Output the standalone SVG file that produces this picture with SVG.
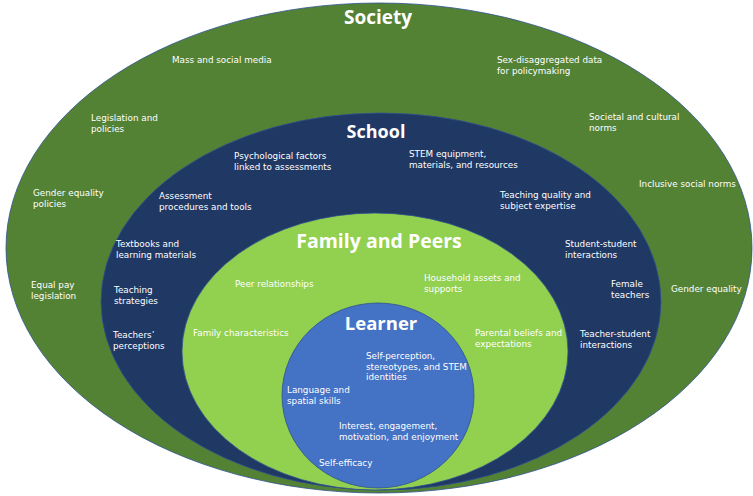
<svg xmlns="http://www.w3.org/2000/svg" width="753" height="496" viewBox="0 0 753 496">
<style>
.ring{stroke:#2F528F;stroke-width:0.8}
.t{font-family:"DejaVu Sans","Open Sans",sans-serif;font-size:8.8px;fill:#ffffff}
.h{font-family:"Open Sans","DejaVu Sans",sans-serif;font-weight:bold;fill:#ffffff;text-anchor:middle}
</style>
<rect width="753" height="496" fill="#ffffff"/>
<g id="society">
<ellipse class="ring" cx="379" cy="248" rx="373" ry="245" fill="#548235"/>
<text class="h" x="378" y="24" font-size="19">Society</text>
<text class="t" x="172" y="63">Mass and social media</text>
<text class="t" x="497" y="63">Sex-disaggregated data<tspan x="497" dy="10.5">for policymaking</tspan></text>
<text class="t" x="91" y="121">Legislation and<tspan x="91" dy="10.5">policies</tspan></text>
<text class="t" x="589" y="120">Societal and cultural<tspan x="589" dy="10.5">norms</tspan></text>
<text class="t" x="33" y="196">Gender equality<tspan x="33" dy="10.5">policies</tspan></text>
<text class="t" x="639" y="187">Inclusive social norms</text>
<text class="t" x="31" y="288">Equal pay<tspan x="31" dy="10.5">legislation</tspan></text>
<text class="t" x="671" y="292">Gender equality</text>
</g>
<g id="school">
<ellipse class="ring" cx="381" cy="301.5" rx="280" ry="188.5" fill="#203864"/>
<text class="h" x="376" y="138" font-size="18">School</text>
<text class="t" x="234" y="159">Psychological factors<tspan x="234" dy="10.5">linked to assessments</tspan></text>
<text class="t" x="409" y="157">STEM equipment,<tspan x="409" dy="10.5">materials, and resources</tspan></text>
<text class="t" x="159" y="199">Assessment<tspan x="159" dy="10.5">procedures and tools</tspan></text>
<text class="t" x="500" y="198">Teaching quality and<tspan x="500" dy="10.5">subject expertise</tspan></text>
<text class="t" x="116" y="247">Textbooks and<tspan x="116" dy="10.5">learning materials</tspan></text>
<text class="t" x="565" y="247">Student-student<tspan x="565" dy="10.5">interactions</tspan></text>
<text class="t" x="114" y="293">Teaching<tspan x="114" dy="10.5">strategies</tspan></text>
<text class="t" x="611" y="287">Female<tspan x="611" dy="10.5">teachers</tspan></text>
<text class="t" x="113" y="338">Teachers’<tspan x="113" dy="11">perceptions</tspan></text>
<text class="t" x="580" y="337">Teacher-student<tspan x="580" dy="11">interactions</tspan></text>
</g>
<g id="family-and-peers">
<ellipse class="ring" cx="375" cy="351.5" rx="193" ry="138.5" fill="#92D050"/>
<text class="h" x="379" y="248" font-size="19.5">Family and Peers</text>
<text class="t" x="235" y="287">Peer relationships</text>
<text class="t" x="424" y="281">Household assets and<tspan x="424" dy="10.5">supports</tspan></text>
<text class="t" x="193" y="336">Family characteristics</text>
<text class="t" x="475" y="336">Parental beliefs and<tspan x="475" dy="10.5">expectations</tspan></text>
</g>
<g id="learner">
<ellipse class="ring" cx="378" cy="395.5" rx="96" ry="92.5" fill="#4472C4"/>
<text class="h" x="381" y="330" font-size="18.5">Learner</text>
<text class="t" x="366" y="359">Self-perception,<tspan x="366" dy="10.5">stereotypes, and STEM</tspan><tspan x="366" dy="10.5">identities</tspan></text>
<text class="t" x="287" y="393">Language and<tspan x="287" dy="10.5">spatial skills</tspan></text>
<text class="t" x="339" y="429">Interest, engagement,<tspan x="339" dy="10.5">motivation, and enjoyment</tspan></text>
<text class="t" x="319" y="466">Self-efficacy</text>
</g>
<g id="connectors"/>
</svg>
